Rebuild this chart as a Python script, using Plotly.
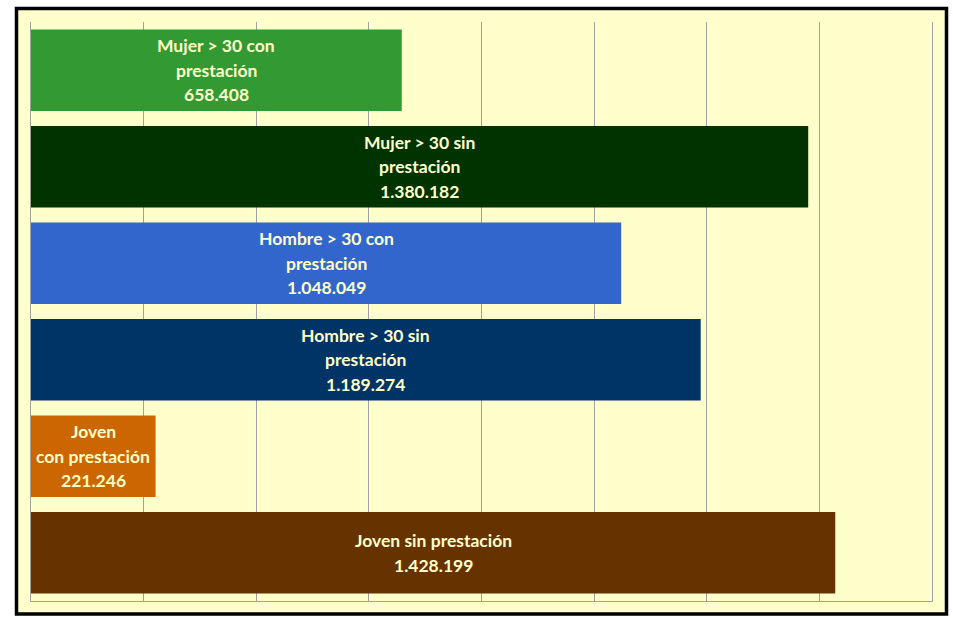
import plotly.graph_objects as go

categories = ["Mujer > 30 con prestación", "Mujer > 30 sin prestación",
              "Hombre > 30 con prestación", "Hombre > 30 sin prestación",
              "Joven con prestación", "Joven sin prestación"]
values = [658408, 1380182, 1048049, 1189274, 221246, 1428199]
label_lines = [["Mujer > 30 con", "prestación"],
               ["Mujer > 30 sin", "prestación"],
               ["Hombre > 30 con", "prestación"],
               ["Hombre > 30 sin", "prestación"],
               ["Joven", "con prestación"],
               ["Joven sin prestación"]]
colors = ["#339933", "#003300", "#3366CC", "#003366", "#CC6600", "#663300"]
x_max = 1600000
x_step = 200000

fig = go.Figure()
fig.add_trace(go.Bar(
    y=categories, x=values, orientation="h",
    marker=dict(color=colors, line=dict(width=0)),
    hoverinfo="x+y", showlegend=False,
))

def fmt(v):
    return f"{v:,}".replace(",", ".")

line_h = 24.5
for cat, v, lines in zip(categories, values, label_lines):
    all_lines = lines + [fmt(v)]
    n = len(all_lines)
    for i, t in enumerate(all_lines):
        shift = ((n - 1) / 2 - i) * line_h
        fig.add_annotation(x=v / 2, y=cat, text=f"<b>{t}</b>", showarrow=False,
                           yshift=shift, xanchor="center", yanchor="middle",
                           font=dict(family="Lato, Open Sans, sans-serif", size=17.5, color="#FFFFCC"))

# outer frame
L, R, T, B = 31, 21, 22, 17
W, H = 953, 618
pw, ph = W - L - R, H - T - B
def px_x(p):
    return (p - L) / pw
def px_y(p):
    return (H - B - p) / ph
fig.add_shape(type="rect", xref="paper", yref="paper",
              x0=px_x(16.5), x1=px_x(946.5), y0=px_y(614), y1=px_y(8.5),
              line=dict(color="black", width=3.5), fillcolor="#FFFFCC", layer="below")

fig.update_layout(
    width=W, height=H,
    margin=dict(l=L, r=R, t=T, b=B),
    paper_bgcolor="white", plot_bgcolor="#FFFFCC",
    bargap=0.155,
    xaxis=dict(range=[0, x_max], dtick=x_step, showticklabels=False, ticks="",
               showgrid=True, gridcolor="#A0A0A0", gridwidth=1, zeroline=False,
               showline=True, linecolor="#A0A0A0", linewidth=1, fixedrange=True),
    yaxis=dict(autorange="reversed", showticklabels=False, ticks="", showgrid=False,
               showline=True, mirror=True, linecolor="#A0A0A0", linewidth=1, zeroline=False),
)

fig.write_html("out.html", config={"displayModeBar": False},
               post_script="document.body.style.margin='0';document.body.style.overflow='hidden';")
